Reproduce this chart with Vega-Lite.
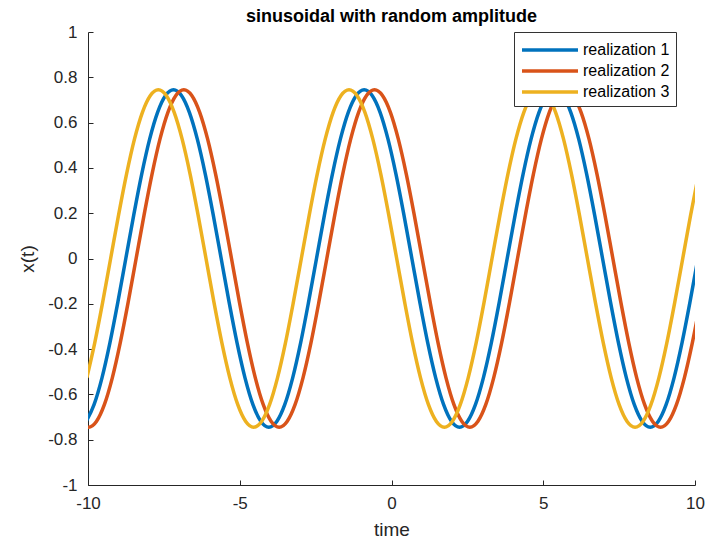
{
  "$schema": "https://vega.github.io/schema/vega-lite/v6.json",
  "autosize": {"type": "none"},
  "width": 607,
  "height": 453,
  "padding": {"left": 88, "top": 32, "right": 11, "bottom": 62},
  "title": {"text": "sinusoidal with random amplitude", "fontSize": 18, "fontWeight": "bold", "font": "Liberation Sans", "color": "#000000", "offset": 9, "dy": 12, "anchor": "middle"},
  "data": {"values": [
    {"t": -10.063, "x": -0.7196, "s": "realization 1"},
    {"t": -9.801, "x": -0.6452, "s": "realization 1"},
    {"t": -9.539, "x": -0.5268, "s": "realization 1"},
    {"t": -9.278, "x": -0.3725, "s": "realization 1"},
    {"t": -9.016, "x": -0.1928, "s": "realization 1"},
    {"t": -8.754, "x": 0, "s": "realization 1"},
    {"t": -8.492, "x": 0.1928, "s": "realization 1"},
    {"t": -8.230, "x": 0.3725, "s": "realization 1"},
    {"t": -7.969, "x": 0.5268, "s": "realization 1"},
    {"t": -7.707, "x": 0.6452, "s": "realization 1"},
    {"t": -7.445, "x": 0.7196, "s": "realization 1"},
    {"t": -7.183, "x": 0.745, "s": "realization 1"},
    {"t": -6.921, "x": 0.7196, "s": "realization 1"},
    {"t": -6.660, "x": 0.6452, "s": "realization 1"},
    {"t": -6.398, "x": 0.5268, "s": "realization 1"},
    {"t": -6.136, "x": 0.3725, "s": "realization 1"},
    {"t": -5.874, "x": 0.1928, "s": "realization 1"},
    {"t": -5.612, "x": 0, "s": "realization 1"},
    {"t": -5.351, "x": -0.1928, "s": "realization 1"},
    {"t": -5.089, "x": -0.3725, "s": "realization 1"},
    {"t": -4.827, "x": -0.5268, "s": "realization 1"},
    {"t": -4.565, "x": -0.6452, "s": "realization 1"},
    {"t": -4.303, "x": -0.7196, "s": "realization 1"},
    {"t": -4.042, "x": -0.745, "s": "realization 1"},
    {"t": -3.780, "x": -0.7196, "s": "realization 1"},
    {"t": -3.518, "x": -0.6452, "s": "realization 1"},
    {"t": -3.256, "x": -0.5268, "s": "realization 1"},
    {"t": -2.994, "x": -0.3725, "s": "realization 1"},
    {"t": -2.733, "x": -0.1928, "s": "realization 1"},
    {"t": -2.471, "x": 0, "s": "realization 1"},
    {"t": -2.209, "x": 0.1928, "s": "realization 1"},
    {"t": -1.947, "x": 0.3725, "s": "realization 1"},
    {"t": -1.685, "x": 0.5268, "s": "realization 1"},
    {"t": -1.424, "x": 0.6452, "s": "realization 1"},
    {"t": -1.162, "x": 0.7196, "s": "realization 1"},
    {"t": -0.900, "x": 0.745, "s": "realization 1"},
    {"t": -0.638, "x": 0.7196, "s": "realization 1"},
    {"t": -0.376, "x": 0.6452, "s": "realization 1"},
    {"t": -0.115, "x": 0.5268, "s": "realization 1"},
    {"t": 0.147, "x": 0.3725, "s": "realization 1"},
    {"t": 0.409, "x": 0.1928, "s": "realization 1"},
    {"t": 0.671, "x": 0, "s": "realization 1"},
    {"t": 0.933, "x": -0.1928, "s": "realization 1"},
    {"t": 1.194, "x": -0.3725, "s": "realization 1"},
    {"t": 1.456, "x": -0.5268, "s": "realization 1"},
    {"t": 1.718, "x": -0.6452, "s": "realization 1"},
    {"t": 1.980, "x": -0.7196, "s": "realization 1"},
    {"t": 2.242, "x": -0.745, "s": "realization 1"},
    {"t": 2.503, "x": -0.7196, "s": "realization 1"},
    {"t": 2.765, "x": -0.6452, "s": "realization 1"},
    {"t": 3.027, "x": -0.5268, "s": "realization 1"},
    {"t": 3.289, "x": -0.3725, "s": "realization 1"},
    {"t": 3.551, "x": -0.1928, "s": "realization 1"},
    {"t": 3.812, "x": 0, "s": "realization 1"},
    {"t": 4.074, "x": 0.1928, "s": "realization 1"},
    {"t": 4.336, "x": 0.3725, "s": "realization 1"},
    {"t": 4.598, "x": 0.5268, "s": "realization 1"},
    {"t": 4.860, "x": 0.6452, "s": "realization 1"},
    {"t": 5.121, "x": 0.7196, "s": "realization 1"},
    {"t": 5.383, "x": 0.745, "s": "realization 1"},
    {"t": 5.645, "x": 0.7196, "s": "realization 1"},
    {"t": 5.907, "x": 0.6452, "s": "realization 1"},
    {"t": 6.169, "x": 0.5268, "s": "realization 1"},
    {"t": 6.430, "x": 0.3725, "s": "realization 1"},
    {"t": 6.692, "x": 0.1928, "s": "realization 1"},
    {"t": 6.954, "x": 0, "s": "realization 1"},
    {"t": 7.216, "x": -0.1928, "s": "realization 1"},
    {"t": 7.478, "x": -0.3725, "s": "realization 1"},
    {"t": 7.739, "x": -0.5268, "s": "realization 1"},
    {"t": 8.001, "x": -0.6452, "s": "realization 1"},
    {"t": 8.263, "x": -0.7196, "s": "realization 1"},
    {"t": 8.525, "x": -0.745, "s": "realization 1"},
    {"t": 8.787, "x": -0.7196, "s": "realization 1"},
    {"t": 9.048, "x": -0.6452, "s": "realization 1"},
    {"t": 9.310, "x": -0.5268, "s": "realization 1"},
    {"t": 9.572, "x": -0.3725, "s": "realization 1"},
    {"t": 9.834, "x": -0.1928, "s": "realization 1"},
    {"t": 10.096, "x": 0, "s": "realization 1"},
    {"t": -10.247, "x": -0.7196, "s": "realization 2"},
    {"t": -9.985, "x": -0.745, "s": "realization 2"},
    {"t": -9.723, "x": -0.7196, "s": "realization 2"},
    {"t": -9.461, "x": -0.6452, "s": "realization 2"},
    {"t": -9.199, "x": -0.5268, "s": "realization 2"},
    {"t": -8.938, "x": -0.3725, "s": "realization 2"},
    {"t": -8.676, "x": -0.1928, "s": "realization 2"},
    {"t": -8.414, "x": 0, "s": "realization 2"},
    {"t": -8.152, "x": 0.1928, "s": "realization 2"},
    {"t": -7.890, "x": 0.3725, "s": "realization 2"},
    {"t": -7.629, "x": 0.5268, "s": "realization 2"},
    {"t": -7.367, "x": 0.6452, "s": "realization 2"},
    {"t": -7.105, "x": 0.7196, "s": "realization 2"},
    {"t": -6.843, "x": 0.745, "s": "realization 2"},
    {"t": -6.581, "x": 0.7196, "s": "realization 2"},
    {"t": -6.320, "x": 0.6452, "s": "realization 2"},
    {"t": -6.058, "x": 0.5268, "s": "realization 2"},
    {"t": -5.796, "x": 0.3725, "s": "realization 2"},
    {"t": -5.534, "x": 0.1928, "s": "realization 2"},
    {"t": -5.272, "x": 0, "s": "realization 2"},
    {"t": -5.011, "x": -0.1928, "s": "realization 2"},
    {"t": -4.749, "x": -0.3725, "s": "realization 2"},
    {"t": -4.487, "x": -0.5268, "s": "realization 2"},
    {"t": -4.225, "x": -0.6452, "s": "realization 2"},
    {"t": -3.963, "x": -0.7196, "s": "realization 2"},
    {"t": -3.702, "x": -0.745, "s": "realization 2"},
    {"t": -3.440, "x": -0.7196, "s": "realization 2"},
    {"t": -3.178, "x": -0.6452, "s": "realization 2"},
    {"t": -2.916, "x": -0.5268, "s": "realization 2"},
    {"t": -2.654, "x": -0.3725, "s": "realization 2"},
    {"t": -2.393, "x": -0.1928, "s": "realization 2"},
    {"t": -2.131, "x": 0, "s": "realization 2"},
    {"t": -1.869, "x": 0.1928, "s": "realization 2"},
    {"t": -1.607, "x": 0.3725, "s": "realization 2"},
    {"t": -1.345, "x": 0.5268, "s": "realization 2"},
    {"t": -1.084, "x": 0.6452, "s": "realization 2"},
    {"t": -0.822, "x": 0.7196, "s": "realization 2"},
    {"t": -0.560, "x": 0.745, "s": "realization 2"},
    {"t": -0.298, "x": 0.7196, "s": "realization 2"},
    {"t": -0.036, "x": 0.6452, "s": "realization 2"},
    {"t": 0.225, "x": 0.5268, "s": "realization 2"},
    {"t": 0.487, "x": 0.3725, "s": "realization 2"},
    {"t": 0.749, "x": 0.1928, "s": "realization 2"},
    {"t": 1.011, "x": 0, "s": "realization 2"},
    {"t": 1.273, "x": -0.1928, "s": "realization 2"},
    {"t": 1.534, "x": -0.3725, "s": "realization 2"},
    {"t": 1.796, "x": -0.5268, "s": "realization 2"},
    {"t": 2.058, "x": -0.6452, "s": "realization 2"},
    {"t": 2.320, "x": -0.7196, "s": "realization 2"},
    {"t": 2.582, "x": -0.745, "s": "realization 2"},
    {"t": 2.843, "x": -0.7196, "s": "realization 2"},
    {"t": 3.105, "x": -0.6452, "s": "realization 2"},
    {"t": 3.367, "x": -0.5268, "s": "realization 2"},
    {"t": 3.629, "x": -0.3725, "s": "realization 2"},
    {"t": 3.891, "x": -0.1928, "s": "realization 2"},
    {"t": 4.152, "x": 0, "s": "realization 2"},
    {"t": 4.414, "x": 0.1928, "s": "realization 2"},
    {"t": 4.676, "x": 0.3725, "s": "realization 2"},
    {"t": 4.938, "x": 0.5268, "s": "realization 2"},
    {"t": 5.200, "x": 0.6452, "s": "realization 2"},
    {"t": 5.461, "x": 0.7196, "s": "realization 2"},
    {"t": 5.723, "x": 0.745, "s": "realization 2"},
    {"t": 5.985, "x": 0.7196, "s": "realization 2"},
    {"t": 6.247, "x": 0.6452, "s": "realization 2"},
    {"t": 6.509, "x": 0.5268, "s": "realization 2"},
    {"t": 6.770, "x": 0.3725, "s": "realization 2"},
    {"t": 7.032, "x": 0.1928, "s": "realization 2"},
    {"t": 7.294, "x": 0, "s": "realization 2"},
    {"t": 7.556, "x": -0.1928, "s": "realization 2"},
    {"t": 7.818, "x": -0.3725, "s": "realization 2"},
    {"t": 8.079, "x": -0.5268, "s": "realization 2"},
    {"t": 8.341, "x": -0.6452, "s": "realization 2"},
    {"t": 8.603, "x": -0.7196, "s": "realization 2"},
    {"t": 8.865, "x": -0.745, "s": "realization 2"},
    {"t": 9.127, "x": -0.7196, "s": "realization 2"},
    {"t": 9.388, "x": -0.6452, "s": "realization 2"},
    {"t": 9.650, "x": -0.5268, "s": "realization 2"},
    {"t": 9.912, "x": -0.3725, "s": "realization 2"},
    {"t": 10.174, "x": -0.1928, "s": "realization 2"},
    {"t": -10.039, "x": -0.5268, "s": "realization 3"},
    {"t": -9.778, "x": -0.3725, "s": "realization 3"},
    {"t": -9.516, "x": -0.1928, "s": "realization 3"},
    {"t": -9.254, "x": 0, "s": "realization 3"},
    {"t": -8.992, "x": 0.1928, "s": "realization 3"},
    {"t": -8.730, "x": 0.3725, "s": "realization 3"},
    {"t": -8.469, "x": 0.5268, "s": "realization 3"},
    {"t": -8.207, "x": 0.6452, "s": "realization 3"},
    {"t": -7.945, "x": 0.7196, "s": "realization 3"},
    {"t": -7.683, "x": 0.745, "s": "realization 3"},
    {"t": -7.421, "x": 0.7196, "s": "realization 3"},
    {"t": -7.160, "x": 0.6452, "s": "realization 3"},
    {"t": -6.898, "x": 0.5268, "s": "realization 3"},
    {"t": -6.636, "x": 0.3725, "s": "realization 3"},
    {"t": -6.374, "x": 0.1928, "s": "realization 3"},
    {"t": -6.112, "x": 0, "s": "realization 3"},
    {"t": -5.851, "x": -0.1928, "s": "realization 3"},
    {"t": -5.589, "x": -0.3725, "s": "realization 3"},
    {"t": -5.327, "x": -0.5268, "s": "realization 3"},
    {"t": -5.065, "x": -0.6452, "s": "realization 3"},
    {"t": -4.803, "x": -0.7196, "s": "realization 3"},
    {"t": -4.542, "x": -0.745, "s": "realization 3"},
    {"t": -4.280, "x": -0.7196, "s": "realization 3"},
    {"t": -4.018, "x": -0.6452, "s": "realization 3"},
    {"t": -3.756, "x": -0.5268, "s": "realization 3"},
    {"t": -3.494, "x": -0.3725, "s": "realization 3"},
    {"t": -3.233, "x": -0.1928, "s": "realization 3"},
    {"t": -2.971, "x": 0, "s": "realization 3"},
    {"t": -2.709, "x": 0.1928, "s": "realization 3"},
    {"t": -2.447, "x": 0.3725, "s": "realization 3"},
    {"t": -2.185, "x": 0.5268, "s": "realization 3"},
    {"t": -1.924, "x": 0.6452, "s": "realization 3"},
    {"t": -1.662, "x": 0.7196, "s": "realization 3"},
    {"t": -1.400, "x": 0.745, "s": "realization 3"},
    {"t": -1.138, "x": 0.7196, "s": "realization 3"},
    {"t": -0.876, "x": 0.6452, "s": "realization 3"},
    {"t": -0.615, "x": 0.5268, "s": "realization 3"},
    {"t": -0.353, "x": 0.3725, "s": "realization 3"},
    {"t": -0.091, "x": 0.1928, "s": "realization 3"},
    {"t": 0.171, "x": 0, "s": "realization 3"},
    {"t": 0.433, "x": -0.1928, "s": "realization 3"},
    {"t": 0.694, "x": -0.3725, "s": "realization 3"},
    {"t": 0.956, "x": -0.5268, "s": "realization 3"},
    {"t": 1.218, "x": -0.6452, "s": "realization 3"},
    {"t": 1.480, "x": -0.7196, "s": "realization 3"},
    {"t": 1.742, "x": -0.745, "s": "realization 3"},
    {"t": 2.003, "x": -0.7196, "s": "realization 3"},
    {"t": 2.265, "x": -0.6452, "s": "realization 3"},
    {"t": 2.527, "x": -0.5268, "s": "realization 3"},
    {"t": 2.789, "x": -0.3725, "s": "realization 3"},
    {"t": 3.051, "x": -0.1928, "s": "realization 3"},
    {"t": 3.312, "x": 0, "s": "realization 3"},
    {"t": 3.574, "x": 0.1928, "s": "realization 3"},
    {"t": 3.836, "x": 0.3725, "s": "realization 3"},
    {"t": 4.098, "x": 0.5268, "s": "realization 3"},
    {"t": 4.360, "x": 0.6452, "s": "realization 3"},
    {"t": 4.621, "x": 0.7196, "s": "realization 3"},
    {"t": 4.883, "x": 0.745, "s": "realization 3"},
    {"t": 5.145, "x": 0.7196, "s": "realization 3"},
    {"t": 5.407, "x": 0.6452, "s": "realization 3"},
    {"t": 5.669, "x": 0.5268, "s": "realization 3"},
    {"t": 5.930, "x": 0.3725, "s": "realization 3"},
    {"t": 6.192, "x": 0.1928, "s": "realization 3"},
    {"t": 6.454, "x": 0, "s": "realization 3"},
    {"t": 6.716, "x": -0.1928, "s": "realization 3"},
    {"t": 6.978, "x": -0.3725, "s": "realization 3"},
    {"t": 7.239, "x": -0.5268, "s": "realization 3"},
    {"t": 7.501, "x": -0.6452, "s": "realization 3"},
    {"t": 7.763, "x": -0.7196, "s": "realization 3"},
    {"t": 8.025, "x": -0.745, "s": "realization 3"},
    {"t": 8.287, "x": -0.7196, "s": "realization 3"},
    {"t": 8.548, "x": -0.6452, "s": "realization 3"},
    {"t": 8.810, "x": -0.5268, "s": "realization 3"},
    {"t": 9.072, "x": -0.3725, "s": "realization 3"},
    {"t": 9.334, "x": -0.1928, "s": "realization 3"},
    {"t": 9.596, "x": 0, "s": "realization 3"},
    {"t": 9.857, "x": 0.1928, "s": "realization 3"},
    {"t": 10.119, "x": 0.3725, "s": "realization 3"}
  ]},
  "mark": {"type": "line", "strokeWidth": 3.5, "interpolate": "monotone", "clip": true},
  "encoding": {
    "x": {"field": "t", "type": "quantitative", "title": "time",
      "scale": {"domain": [-10, 10], "nice": false, "zero": false},
      "axis": {"values": [-10, -5, 0, 5, 10], "labelExpr": "'' + datum.value", "labelFlush": false, "labelOverlap": false}},
    "y": {"field": "x", "type": "quantitative", "title": "x(t)",
      "scale": {"domain": [-1, 1], "nice": false, "zero": false},
      "axis": {"values": [-1, -0.8, -0.6, -0.4, -0.2, 0, 0.2, 0.4, 0.6, 0.8, 1], "labelExpr": "'' + datum.value", "labelFlush": false, "labelOverlap": false, "titlePadding": 10}},
    "color": {"field": "s", "type": "nominal",
      "scale": {"domain": ["realization 1", "realization 2", "realization 3"], "range": ["#0072BD", "#D95319", "#EDB120"]},
      "legend": {"title": null, "orient": "none", "legendX": 426, "legendY": 0,
        "symbolType": "M-1,0H4.6", "symbolSize": 400, "symbolStrokeWidth": 3.5,
        "labelExpr": "datum.label + '\u2002\u2002\u2002'",
        "labelFontSize": 16, "labelFont": "Liberation Sans", "labelColor": "#000000",
        "strokeColor": "#333333", "fillColor": "#ffffff", "padding": 6, "rowPadding": 1, "labelOffset": 39}}
  },
  "config": {
    "view": {"stroke": null},
    "axis": {"grid": false, "domainColor": "#262626", "domainWidth": 1, "tickColor": "#262626", "tickWidth": 1,
      "tickSize": -5, "labelPadding": 15, "labelFont": "Liberation Sans", "labelFontSize": 17, "labelColor": "#262626",
      "titleFont": "Liberation Sans", "titleFontSize": 19, "titleFontWeight": "normal", "titleColor": "#262626"},
    "axisX": {"titlePadding": 9},
    "axisY": {"labelPadding": 16}
  }
}
